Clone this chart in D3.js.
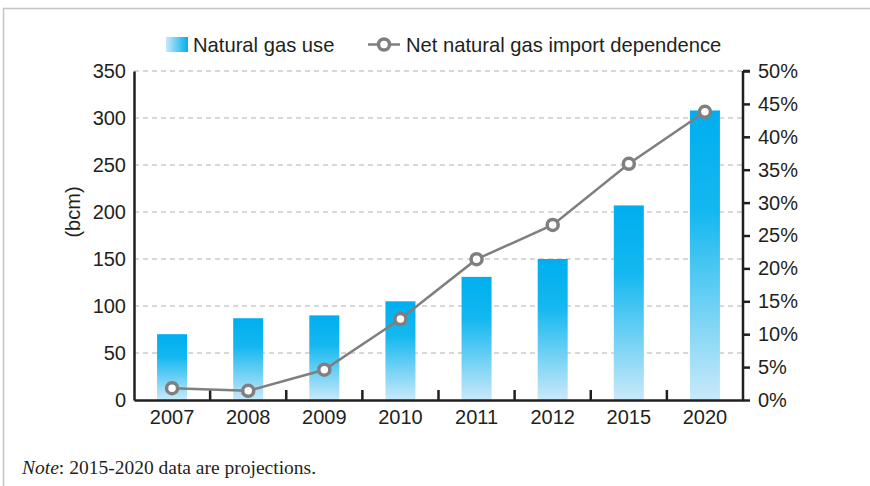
<!DOCTYPE html>
<html>
<head>
<meta charset="utf-8">
<script src="https://cdn.jsdelivr.net/npm/d3@7"></script>
<style>
  body { margin: 0; background: #fff; }
  text { font-family: "Liberation Sans", Arial, sans-serif; fill: #231f20; }
</style>
</head>
<body>
<div id="chart-area"></div>
<script>
// data
const years = ["2007", "2008", "2009", "2010", "2011", "2012", "2015", "2020"];
const gasUse = [70, 87, 90, 105, 131, 150, 207, 308];          // bcm
const importDep = [1.8, 1.4, 4.6, 12.3, 21.4, 26.6, 35.9, 43.8]; // %
const leftTicks = [0, 50, 100, 150, 200, 250, 300, 350];
const rightTicks = [0, 5, 10, 15, 20, 25, 30, 35, 40, 45, 50];

const svgWidth = 870, svgHeight = 486;
const margin = { left: 134, right: 127, top: 71, bottom: 86 };
const chartWidth = svgWidth - margin.left - margin.right,
      chartHeight = svgHeight - margin.top - margin.bottom;

const svg = d3.select("#chart-area").append("svg")
    .attr("width", svgWidth)
    .attr("height", svgHeight);

// frame
svg.append("path")
    .attr("d", "M3.5," + svgHeight + "V8.5H" + svgWidth)
    .attr("fill", "none")
    .attr("stroke", "#c4c4c4")
    .attr("stroke-width", 1.5);

const defs = svg.append("defs");
const grad = defs.append("linearGradient")
    .attr("id", "barGrad")
    .attr("x1", 0).attr("y1", 0).attr("x2", 0).attr("y2", 1);
grad.append("stop").attr("offset", "0%").attr("stop-color", "#00aeef");
grad.append("stop").attr("offset", "35%").attr("stop-color", "#14b8f0");
grad.append("stop").attr("offset", "100%").attr("stop-color", "#c9e9f9");

const legGrad = defs.append("linearGradient")
    .attr("id", "legGrad")
    .attr("x1", 0).attr("y1", 0).attr("x2", 1).attr("y2", 0);
legGrad.append("stop").attr("offset", "0%").attr("stop-color", "#c9e9f9");
legGrad.append("stop").attr("offset", "100%").attr("stop-color", "#00aeef");

const g = svg.append("g")
    .attr("transform", "translate(" + margin.left + "," + margin.top + ")");

// scales
const xCat = d3.scaleBand().domain(years).range([0, chartWidth]);
const yLeft = d3.scaleLinear().domain([0, 350]).range([chartHeight, 0]);
const yRight = d3.scaleLinear().domain([0, 50]).range([chartHeight, 0]);
const barW = 30;

// gridlines
g.append("g").selectAll("line")
    .data(leftTicks.filter(d => d > 0))
    .enter().append("line")
    .attr("x1", 0).attr("x2", chartWidth)
    .attr("y1", d => yLeft(d)).attr("y2", d => yLeft(d))
    .attr("stroke", "#b0b0b0")
    .attr("stroke-width", 1)
    .attr("stroke-dasharray", "5,4");

// bars
g.selectAll(".bar")
    .data(gasUse)
    .enter().append("rect")
    .attr("class", "bar")
    .attr("x", (d, i) => xCat(years[i]) + xCat.bandwidth() / 2 - barW / 2)
    .attr("width", barW)
    .attr("y", d => yLeft(d))
    .attr("height", d => chartHeight - yLeft(d))
    .attr("fill", "url(#barGrad)");

// left axis
const yAxisL = g.append("g")
    .call(d3.axisLeft(yLeft).tickValues(leftTicks).tickSize(0).tickPadding(8));
yAxisL.select(".domain").attr("stroke", "#231f20").attr("stroke-width", 2.5);
yAxisL.selectAll("text").attr("font-size", "20px").attr("fill", "#231f20")
    .attr("font-family", "Liberation Sans, Arial, sans-serif");

// right axis
const yAxisR = g.append("g")
    .attr("transform", "translate(" + chartWidth + ",0)")
    .call(d3.axisRight(yRight).tickValues(rightTicks).tickSize(7).tickPadding(8)
        .tickFormat(d => d + "%"));
yAxisR.select(".domain").attr("stroke", "#231f20").attr("stroke-width", 2.5)
    .attr("d", "M0,0H7M0,0V" + chartHeight);
yAxisR.selectAll(".tick line").attr("stroke", "#231f20").attr("stroke-width", 2.5);
yAxisR.selectAll("text").attr("font-size", "20px").attr("fill", "#231f20")
    .attr("font-family", "Liberation Sans, Arial, sans-serif");

// bottom axis
const xAxis = g.append("g")
    .attr("transform", "translate(0," + chartHeight + ")")
    .call(d3.axisBottom(xCat).tickSize(0).tickPadding(10));
xAxis.select(".domain").attr("stroke", "#231f20").attr("stroke-width", 2.5);
xAxis.selectAll("text").attr("font-size", "20px").attr("fill", "#231f20")
    .attr("font-family", "Liberation Sans, Arial, sans-serif");
// category separators (ticks pointing up)
xAxis.append("g").selectAll("line")
    .data(years.slice(1))
    .enter().append("line")
    .attr("x1", d => xCat(d)).attr("x2", d => xCat(d))
    .attr("y1", 0).attr("y2", -10)
    .attr("stroke", "#231f20")
    .attr("stroke-width", 2.5);

// line
const line = d3.line()
    .x((d, i) => xCat(years[i]) + xCat.bandwidth() / 2)
    .y(d => yRight(d));

g.append("path")
    .attr("d", line(importDep))
    .attr("fill", "none")
    .attr("stroke", "#7f7f80")
    .attr("stroke-width", 2.5);

g.selectAll(".pt")
    .data(importDep)
    .enter().append("circle")
    .attr("class", "pt")
    .attr("cx", (d, i) => xCat(years[i]) + xCat.bandwidth() / 2)
    .attr("cy", d => yRight(d))
    .attr("r", 5.5)
    .attr("fill", "#fff")
    .attr("stroke", "#7f7f80")
    .attr("stroke-width", 3.5);

// y label
svg.append("text")
    .attr("transform", "translate(80,212) rotate(-90)")
    .attr("text-anchor", "middle")
    .attr("font-size", "20px")
    .text("(bcm)");

// legend
const leg = svg.append("g");
leg.append("rect")
    .attr("x", 166).attr("y", 37).attr("width", 22).attr("height", 15)
    .attr("fill", "url(#legGrad)");
leg.append("text")
    .attr("x", 193).attr("y", 52)
    .attr("font-size", "20.2px")
    .text("Natural gas use");
leg.append("line")
    .attr("x1", 368).attr("x2", 400).attr("y1", 44.5).attr("y2", 44.5)
    .attr("stroke", "#7f7f80").attr("stroke-width", 2.5);
leg.append("circle")
    .attr("cx", 384).attr("cy", 44.5).attr("r", 5.5)
    .attr("fill", "#fff").attr("stroke", "#7f7f80").attr("stroke-width", 3.5);
leg.append("text")
    .attr("x", 406).attr("y", 52)
    .attr("font-size", "20.2px")
    .text("Net natural gas import dependence");

// note
const note = svg.append("text")
    .attr("x", 22).attr("y", 474)
    .attr("font-size", "19.5px")
    .style("font-family", "Liberation Serif, Times New Roman, serif");
note.append("tspan").attr("font-style", "italic").text("Note");
note.append("tspan").text(": 2015-2020 data are projections.");
</script>
</body>
</html>
